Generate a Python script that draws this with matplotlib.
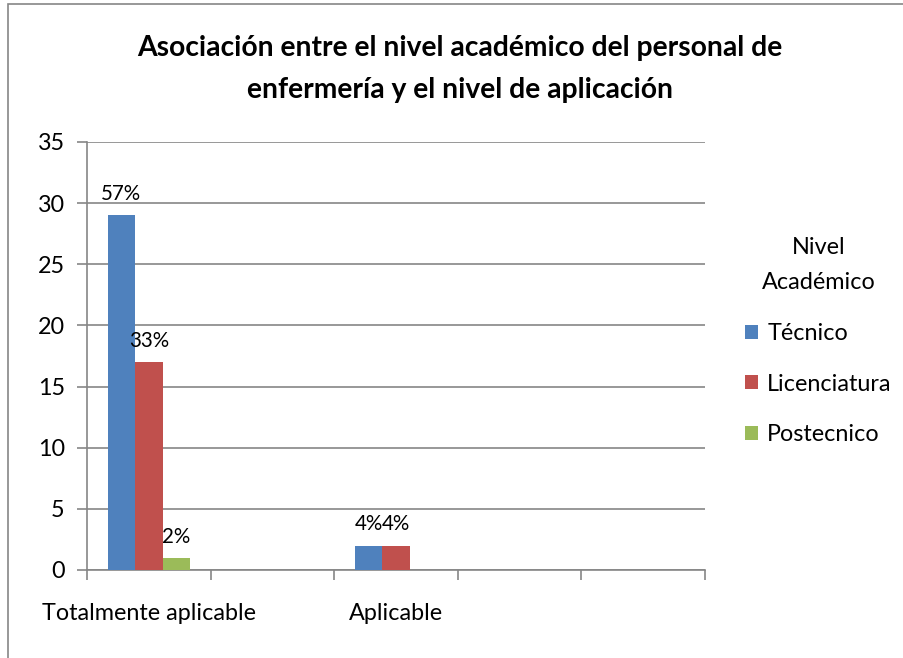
import numpy as np
import matplotlib.pyplot as plt
from matplotlib.patches import Patch, Rectangle

categories = ["Totalmente aplicable", "", "Aplicable", "", ""]
series_names = ["Técnico", "Licenciatura", "Postecnico"]
tecnico = [29, 0, 2, 0, 0]
licenciatura = [17, 0, 2, 0, 0]
postecnico = [1, 0, 0, 0, 0]
colors = ["#4F81BD", "#C0504D", "#9BBB59"]

plt.rcParams['font.family'] = ['Lato', 'DejaVu Sans']
FS = 16.8

fig = plt.figure(figsize=(9.04, 6.58), dpi=100)
ax = fig.add_axes([87 / 904, 1 - 570 / 658, (705 - 87) / 904, (570 - 142) / 658])

series = [tecnico, licenciatura, postecnico]
total = sum(sum(s) for s in series)
x = np.arange(len(categories))
width = 0.222
for i, (vals, col) in enumerate(zip(series, colors)):
    pos = x + (i - 1) * width
    ax.bar(pos, vals, width, color=col, zorder=3)
    for p, v in zip(pos, vals):
        if v > 0:
            ax.annotate(f"{round(v / total * 100):.0f}%", (p, v), xytext=(0, 8),
                        textcoords="offset points", ha="center", va="bottom",
                        fontsize=14.8, color="#000000")

ax.set_xlim(-0.5, len(categories) - 0.5)
ax.set_ylim(0, 35)
ax.set_yticks(range(0, 36, 5))
ax.yaxis.grid(True, color="#868686", linewidth=1.2, zorder=0)
ax.set_axisbelow(True)

ax.set_xticks(x)
ax.set_xticklabels(categories, fontsize=FS)
ax.set_xticks(np.arange(-0.5, len(categories)), minor=True)
ax.tick_params(axis="x", which="major", length=0, pad=24)
ax.tick_params(axis="x", which="minor", length=7, width=1.2, color="#868686")
ax.tick_params(axis="y", length=7, width=1.2, color="#868686", pad=9, labelsize=FS)

for side in ["top", "right"]:
    ax.spines[side].set_visible(False)
for side in ["left", "bottom"]:
    ax.spines[side].set_color("#868686")
    ax.spines[side].set_linewidth(1.2)

fig.text(0.509, 1 - 48 / 658, "Asociación entre el nivel académico del personal de",
         ha="center", va="center", fontsize=20.3, fontweight="bold")
fig.text(0.509, 1 - 90 / 658, "enfermería y el nivel de aplicación",
         ha="center", va="center", fontsize=20.3, fontweight="bold")

handles = [Patch(facecolor=c, edgecolor="none") for c in colors]
leg = fig.legend(handles, series_names, title="Nivel\nAcadémico", loc="upper left",
                 bbox_to_anchor=(724 / 904, 1 - 216 / 658), frameon=False,
                 fontsize=FS, title_fontsize=FS, handlelength=0.55, handleheight=0.55,
                 handletextpad=0.4, labelspacing=1.27)
leg._legend_box.align = "center"
leg.get_title().set_multialignment("center")
leg.get_title().set_linespacing(1.85)

fig.patches.append(Rectangle((8 / 904, -0.1), 1.2, 1 - 4 / 658 + 0.1, transform=fig.transFigure,
                             fill=False, edgecolor="#868686", linewidth=1.2))

fig.savefig("out.png", dpi=100)
